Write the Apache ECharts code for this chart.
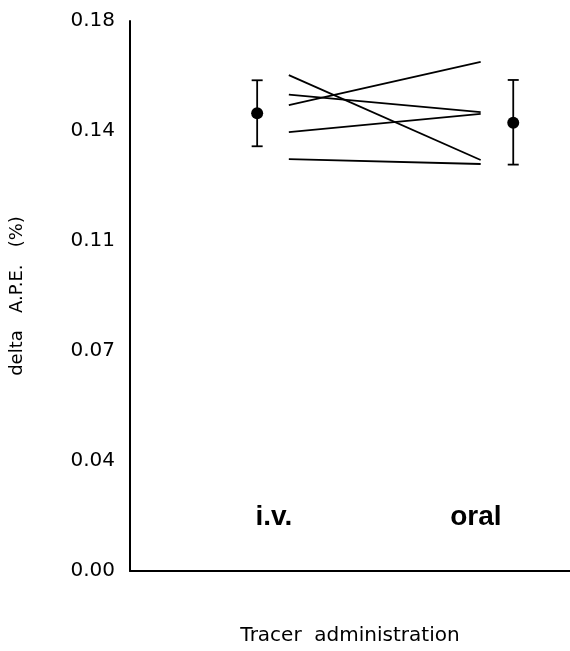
<!DOCTYPE html>
<html>
<head>
<meta charset="utf-8">
<script src="https://cdn.jsdelivr.net/npm/echarts@6/dist/echarts.min.js"></script>
<style>
  html, body { margin: 0; padding: 0; background: #fff; }
  #container { width: 570px; height: 651px; }
</style>
</head>
<body>
<div id="container"></div>
<script>
// groups on the x axis (value axis 0..1)
var groups = ['i.v.', 'oral'];
var groupLabelX = [0.327, 0.786];
var groupLabelY = [0.0175, 0.0175];

// mean +/- error per route
var meanX = [0.289, 0.871];
var meanY = [0.1498, 0.1467];
var errHigh = [0.1606, 0.1607];
var errLow = [0.1390, 0.1330];

// individual subjects: i.v. value -> oral value
var subjX = [0.361, 0.797];
var subjIv = [0.1623, 0.1559, 0.1525, 0.1436, 0.1348];
var subjOral = [0.1345, 0.1502, 0.1666, 0.1496, 0.1332];

var myChart = echarts.init(document.getElementById('container'));
var option;

var series = [];

subjIv.forEach(function (v, i) {
    series.push({
        type: 'line',
        data: [[subjX[0], v], [subjX[1], subjOral[i]]],
        symbol: 'none',
        silent: true,
        lineStyle: { color: '#000', width: 1.8 }
    });
});

series.push({
    type: 'custom',
    silent: true,
    data: meanX.map(function (x, i) { return [x, errLow[i], errHigh[i]]; }),
    renderItem: function (params, api) {
        var lo = api.coord([api.value(0), api.value(1)]);
        var hi = api.coord([api.value(0), api.value(2)]);
        var hw = 5.5;
        var st = { stroke: '#000', lineWidth: 1.8 };
        return {
            type: 'group',
            children: [
                { type: 'line', shape: { x1: lo[0], y1: lo[1], x2: hi[0], y2: hi[1] }, style: st },
                { type: 'line', shape: { x1: lo[0] - hw, y1: lo[1], x2: lo[0] + hw, y2: lo[1] }, style: st },
                { type: 'line', shape: { x1: hi[0] - hw, y1: hi[1], x2: hi[0] + hw, y2: hi[1] }, style: st }
            ]
        };
    },
    z: 3
});

series.push({
    type: 'scatter',
    data: meanX.map(function (x, i) { return [x, meanY[i]]; }),
    symbol: 'circle',
    symbolSize: 12,
    itemStyle: { color: '#000', opacity: 1 },
    z: 4
});

series.push({
    type: 'scatter',
    data: groupLabelX.map(function (x, i) { return [x, groupLabelY[i]]; }),
    symbolSize: 0,
    silent: true,
    itemStyle: { opacity: 1 },
    label: {
        show: true,
        position: 'inside',
        formatter: function (p) { return groups[p.dataIndex]; },
        color: '#000',
        opacity: 1,
        fontSize: 28,
        fontWeight: 'bold',
        fontFamily: 'Liberation Sans, Arial, sans-serif'
    }
});

option = {
    animation: false,
    backgroundColor: '#fff',
    grid: { left: 127, right: 0, top: 21, bottom: 63 },
    xAxis: {
        type: 'value',
        min: 0,
        max: 1,
        name: 'Tracer  administration',
        nameLocation: 'middle',
        nameGap: 55,
        nameTextStyle: { color: '#000', fontSize: 20, fontFamily: 'DejaVu Sans' },
        axisLine: { lineStyle: { color: '#000', width: 2 } },
        axisTick: { show: false },
        axisLabel: { show: false },
        splitLine: { show: false }
    },
    yAxis: {
        type: 'value',
        min: 0,
        max: 0.18,
        interval: 0.036,
        name: 'delta   A.P.E.   (%)',
        nameLocation: 'middle',
        nameGap: 104,
        nameTextStyle: { color: '#000', fontSize: 18, fontFamily: 'DejaVu Sans' },
        axisLine: { show: true, lineStyle: { color: '#000', width: 2 } },
        axisTick: { show: false },
        axisLabel: {
            color: '#000',
            fontSize: 20,
            fontFamily: 'DejaVu Sans',
            margin: 15,
            formatter: function (v) { return v.toFixed(2); }
        },
        splitLine: { show: false }
    },
    series: series
};

if (option && typeof option === 'object') {
    myChart.setOption(option);
}
</script>
</body>
</html>
